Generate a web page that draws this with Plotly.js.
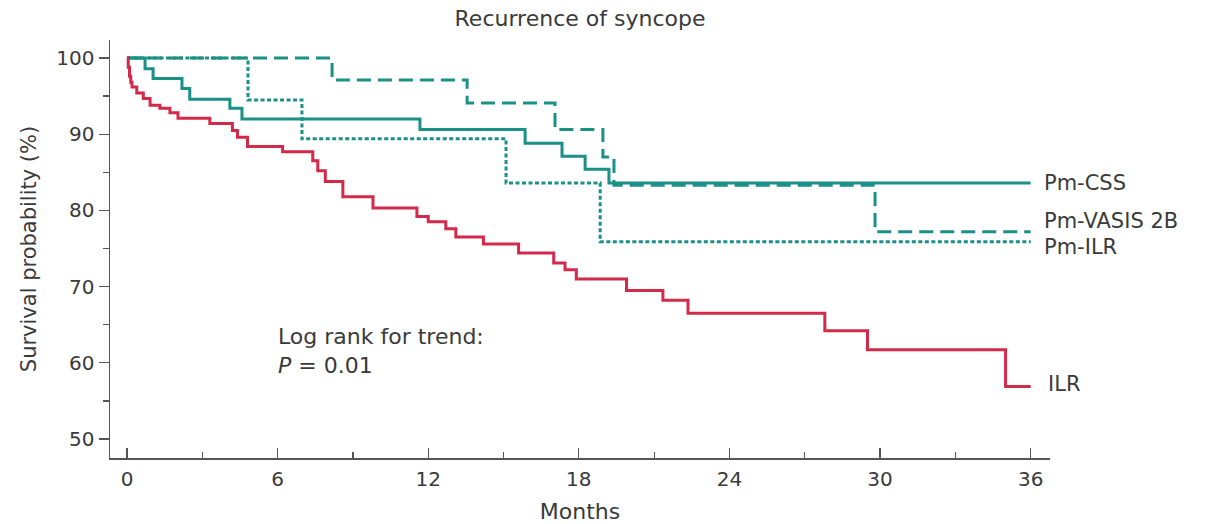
<!DOCTYPE html>
<html>
<head>
<meta charset="utf-8">
<script src="https://cdn.plot.ly/plotly-3.0.1.min.js"></script>
<style>html,body{margin:0;padding:0;background:#fff;}#chart{width:1207px;height:524px;}</style>
</head>
<body>
<div id="chart"></div>
<script>
// Kaplan-Meier step data (months, survival %)
const ilrMonths = [0, 0.05, 0.1, 0.15, 0.2, 0.39, 0.65, 0.92, 1.31, 1.71, 2.03, 3.3, 4.2, 4.4, 4.8, 6.2, 7.4, 7.6, 7.9, 8.6, 9.8, 11.55, 12.0, 12.7, 13.1, 14.2, 15.6, 17.0, 17.45, 17.9, 19.9, 21.35, 22.35, 27.8, 29.5, 35.0, 36.0];
const ilrSurv   = [100, 98.8, 97.6, 96.8, 96.2, 95.4, 94.7, 93.8, 93.4, 92.8, 92.1, 91.4, 90.5, 89.6, 88.4, 87.7, 86.5, 85.2, 83.8, 81.8, 80.3, 79.2, 78.5, 77.6, 76.5, 75.6, 74.4, 73.1, 72.2, 71.0, 69.5, 68.2, 66.5, 64.2, 61.7, 56.9, 56.9];

const cssMonths = [0, 0.72, 1.04, 2.19, 2.5, 4.1, 4.58, 11.67, 15.86, 17.33, 18.25, 19.2, 36];
const cssSurv   = [100, 98.6, 97.3, 96.0, 94.6, 93.4, 92.0, 90.6, 88.8, 87.1, 85.4, 83.6, 83.6];

const vasisMonths = [0, 8.17, 13.55, 17.05, 18.96, 19.4, 29.8, 36];
const vasisSurv   = [100, 97.1, 94.1, 90.6, 87.0, 83.3, 77.2, 77.2];

const pmIlrMonths = [0, 4.82, 6.97, 15.1, 18.85, 36];
const pmIlrSurv   = [100, 94.5, 89.4, 83.6, 75.9, 75.9];

const seriesLabels = ["Pm-CSS", "Pm-VASIS 2B", "Pm-ILR", "ILR"];
const labelY = [83.6, 78.6, 75.2, 57.2];
const xTickVals = [0, 6, 12, 18, 24, 30, 36];
const yTickVals = [50, 60, 70, 80, 90, 100];

const TEAL = "#1a9086";
const RED = "#d42a4a";
const TXT = "#3a3a3a";
const FONT = "DejaVu Sans";

const traces = [
  {x: pmIlrMonths, y: pmIlrSurv, mode: "lines", line: {shape: "hv", color: TEAL, width: 3, dash: "4px,2.5px"}, name: seriesLabels[2]},
  {x: vasisMonths, y: vasisSurv, mode: "lines", line: {shape: "hv", color: TEAL, width: 3, dash: "14px,7px"}, name: seriesLabels[1]},
  {x: cssMonths, y: cssSurv, mode: "lines", line: {shape: "hv", color: TEAL, width: 3}, name: seriesLabels[0]},
  {x: ilrMonths, y: ilrSurv, mode: "lines", line: {shape: "hv", color: RED, width: 3}, name: seriesLabels[3]}
];

const annotations = [];
for (let i = 0; i < seriesLabels.length; i++) {
  annotations.push({
    x: i === 3 ? 36.6 : 36.45, y: labelY[i], xref: "x", yref: "y",
    text: seriesLabels[i], showarrow: false, xanchor: "left", yanchor: "middle",
    font: {family: FONT, size: 21, color: TXT}
  });
}
annotations.push({x: 5.95, y: 63.4, xref: "x", yref: "y", text: "Log rank for trend:", showarrow: false,
  xanchor: "left", yanchor: "middle", font: {family: FONT, size: 22, color: TXT}});
annotations.push({x: 5.95, y: 59.7, xref: "x", yref: "y", text: "<i>P</i> = 0.01", showarrow: false,
  xanchor: "left", yanchor: "middle", font: {family: FONT, size: 22, color: TXT}});

const layout = {
  width: 1207, height: 524,
  margin: {l: 110, r: 157, t: 40, b: 66},
  paper_bgcolor: "#fff", plot_bgcolor: "#fff",
  showlegend: false,
  font: {family: FONT, color: TXT},
  title: {text: "Recurrence of syncope", x: 0.5, xref: "paper", y: 1 - 18 / 524, yref: "container",
    xanchor: "center", yanchor: "middle", font: {family: FONT, size: 22, color: TXT}},
  xaxis: {
    range: [-0.677, 36.77], showgrid: false, zeroline: false,
    showline: true, linecolor: "#555", linewidth: 1.5,
    tickmode: "array", tickvals: xTickVals, ticktext: xTickVals.map(String),
    ticks: "inside", ticklen: 10, tickwidth: 1.2, tickcolor: "#555",
    minor: {dtick: 3, tick0: 0, ticks: "inside", ticklen: 6, tickwidth: 1.2, tickcolor: "#555", showgrid: false},
    tickfont: {family: FONT, size: 20, color: TXT}, ticklabelstandoff: 2,
    title: {text: "Months", font: {family: FONT, size: 22, color: TXT}, standoff: 14}
  },
  yaxis: {
    range: [47.51, 102.36], showgrid: false, zeroline: false,
    showline: true, linecolor: "#555", linewidth: 1.5,
    tickmode: "array", tickvals: yTickVals, ticktext: yTickVals.map(String),
    ticks: "outside", ticklen: 10, tickwidth: 1.2, tickcolor: "#555",
    minor: {dtick: 5, tick0: 50, ticks: "outside", ticklen: 6, tickwidth: 1.2, tickcolor: "#555", showgrid: false},
    tickfont: {family: FONT, size: 20, color: TXT},
    title: {text: "Survival probability (%)", font: {family: FONT, size: 21, color: TXT}, standoff: 14}
  },
  annotations: annotations
};

Plotly.newPlot("chart", traces, layout, {staticPlot: true, displayModeBar: false});
</script>
</body>
</html>
